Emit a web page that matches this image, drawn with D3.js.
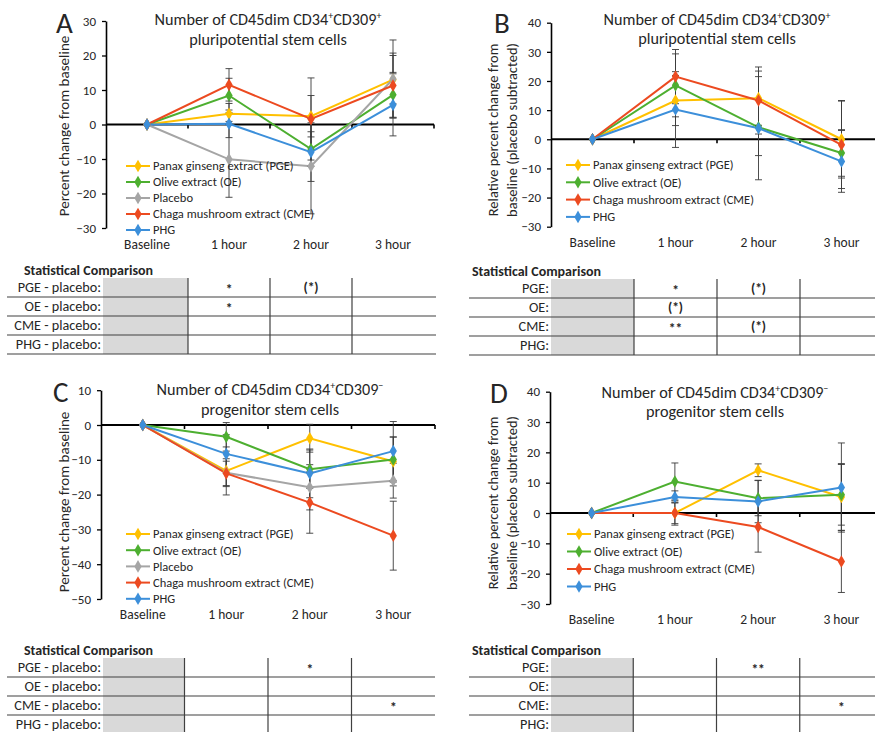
<!DOCTYPE html>
<html lang="en">
<head>
<meta charset="UTF-8">
<title>CD45dim CD34+ stem cells, change from baseline</title>
<script src="https://d3js.org/d3.v7.min.js"></script>
<style>
  body { margin: 0; background: #fff; }
  svg text { font-family: Carlito, "Liberation Sans", Arial, sans-serif; fill: #262626; }
</style>
</head>
<body>
<svg width="875" height="732"></svg>
<script>
// ---- data ----
const categories = ['Baseline', '1 hour', '2 hour', '3 hour'];

const namesWithPlacebo = ['Panax ginseng extract (PGE)', 'Olive extract (OE)', 'Placebo', 'Chaga mushroom extract (CME)', 'PHG'];
const colorsWithPlacebo = ['#FFC000', '#4DAF30', '#A5A5A5', '#EC4A20', '#3C8FDA'];
const namesSubtracted = ['Panax ginseng extract (PGE)', 'Olive extract (OE)', 'Chaga mushroom extract (CME)', 'PHG'];
const colorsSubtracted = ['#FFC000', '#4DAF30', '#EC4A20', '#3C8FDA'];

// A: pluripotential, % change from baseline (PGE, OE, Placebo, CME, PHG)
const meansA = [[0, 3.1, 2.4, 13.0], [0, 8.4, -7.1, 8.6], [0, -10.1, -12.1, 13.2], [0, 11.5, 1.6, 11.3], [0, 0.2, -8.0, 5.7]];
const errsA  = [[0, 3.0, 6.0, 7.0], [0, 5.0, 5.0, 6.5], [0, 11.0, 13.8, 11.3], [0, 4.7, 11.9, 9.4], [0, 4.0, 8.5, 9.0]];
// B: pluripotential, placebo subtracted (PGE, OE, CME, PHG)
const meansB = [[0, 13.3, 14.1, 0.0], [0, 18.5, 4.1, -4.7], [0, 21.5, 13.3, -1.9], [0, 10.2, 3.8, -7.6]];
const errsB  = [[0, 8.6, 9.3, 13.3], [0, 10.8, 9.7, 8.0], [0, 9.3, 11.5, 15.0], [0, 13.0, 17.7, 10.6]];
// C: progenitor, % change from baseline
const meansC = [[0, -13.2, -3.8, -10.5], [0, -3.4, -12.7, -9.9], [0, -13.7, -17.9, -16.0], [0, -13.9, -22.3, -31.8], [0, -8.3, -13.9, -7.5]];
const errsC  = [[0, 6.9, 4.0, 7.0], [0, 4.1, 5.5, 6.5], [0, 4.0, 6.5, 5.0], [0, 3.5, 8.8, 9.9], [0, 5.5, 7.0, 8.5]];
// D: progenitor, placebo subtracted
const meansD = [[0, 0.0, 14.1, 5.3], [0, 10.4, 4.9, 6.0], [0, 0.0, -4.6, -16.0], [0, 5.3, 3.8, 8.4]];
const errsD  = [[0, 4.0, 2.1, 11.0], [0, 6.1, 5.8, 10.0], [0, 3.5, 8.3, 10.2], [0, 2.0, 7.0, 14.7]];

// statistical comparison tables: columns 1 hour, 2 hour, 3 hour
const rowsPlacebo = ['PGE - placebo:', 'OE - placebo:', 'CME - placebo:', 'PHG - placebo:'];
const rowsShort = ['PGE:', 'OE:', 'CME:', 'PHG:'];
const statsA = [['*', '(*)', ''], ['*', '', ''], ['', '', ''], ['', '', '']];
const statsB = [['*', '(*)', ''], ['(*)', '', ''], ['**', '(*)', ''], ['', '', '']];
const statsC = [['', '*', ''], ['', '', ''], ['', '', '*'], ['', '', '']];
const statsD = [['', '**', ''], ['', '', ''], ['', '', '*'], ['', '', '']];

const svg = d3.select('svg');
svg.append('rect').attr('width', 875).attr('height', 732).attr('fill', '#fff');

const diamond = d3.symbol().type(d3.symbolDiamond).size(46);

function drawPanel(p) {
    const g = svg.append('g');
    const x = d3.scaleBand().domain(categories).range(p.xRange);
    const cx = c => x(c) + x.bandwidth() / 2;
    const y = d3.scaleLinear().domain(p.yDomain).range(p.yRange);

    // letter
    g.append('text').attr('x', p.letter[1]).attr('y', p.letter[2])
        .attr('font-size', 29).text(p.letter[0]);

    // title
    const t = g.append('text').attr('x', p.titleX).attr('y', p.titleY[0])
        .attr('text-anchor', 'middle').attr('font-size', 16.2);
    t.append('tspan').text('Number of CD45dim CD34');
    t.append('tspan').attr('dy', -6).attr('font-size', 10).text('+');
    t.append('tspan').attr('dy', 6).text('CD309');
    t.append('tspan').attr('dy', -6).attr('font-size', 10).text(p.sign);
    g.append('text').attr('x', p.titleX).attr('y', p.titleY[1])
        .attr('text-anchor', 'middle').attr('font-size', 16.2).text(p.title2);

    // y label
    p.ylabel.forEach((line, i) => {
        g.append('text')
            .attr('transform', `translate(${p.ylabelX[i]},${p.ylabelY}) rotate(-90)`)
            .attr('text-anchor', 'middle').attr('dy', '0.35em')
            .attr('font-size', p.ylabelSize).text(line);
    });

    // y axis
    g.append('g')
        .attr('transform', `translate(${p.xRange[0]},0)`)
        .call(d3.axisLeft(y).tickValues(d3.range(p.yDomain[0], p.yDomain[1] + 1, 10))
            .tickSize(4).tickSizeOuter(0).tickPadding(6))
        .attr('font-size', 13)
        .call(a => a.select('.domain').attr('stroke', '#000').attr('stroke-width', 1.6))
        .call(a => a.selectAll('.tick line').attr('stroke', '#000').attr('stroke-width', 1.3));

    // zero line with category separators
    const y0 = y(0);
    g.append('line').attr('x1', p.xRange[0]).attr('x2', p.xRange[1])
        .attr('y1', y0).attr('y2', y0).attr('stroke', '#000').attr('stroke-width', 1.8);
    const bounds = categories.slice(1).map(c => x(c)).concat(p.xRange[1]);
    g.selectAll('.sep').data(bounds).join('line')
        .attr('x1', d => d).attr('x2', d => d)
        .attr('y1', y0).attr('y2', y0 + 4)
        .attr('stroke', '#000').attr('stroke-width', 1.6);

    // category labels
    g.append('g')
        .attr('transform', `translate(0,${p.labelTop})`)
        .call(d3.axisBottom(x).tickSize(0).tickPadding(0))
        .attr('font-size', 13.5)
        .call(a => a.select('.domain').remove());

    // series
    const line = d3.line().x((d, i) => cx(categories[i])).y(d => y(d));
    p.means.forEach((m, s) => {
        g.append('path').datum(m).attr('d', line)
            .attr('fill', 'none').attr('stroke', p.colors[s]).attr('stroke-width', 2);
    });
    p.means.forEach((m, s) => {
        const bars = m.map((v, i) => ({ c: categories[i], v, e: p.errs[s][i] })).filter(d => d.e > 0);
        const eb = g.append('g').attr('stroke', '#3a3a3a').attr('stroke-width', 0.9);
        eb.selectAll('.bar').data(bars).join('line')
            .attr('x1', d => cx(d.c)).attr('x2', d => cx(d.c))
            .attr('y1', d => y(d.v - d.e)).attr('y2', d => y(d.v + d.e));
        eb.selectAll('.capH').data(bars).join('line')
            .attr('x1', d => cx(d.c) - 3.5).attr('x2', d => cx(d.c) + 3.5)
            .attr('y1', d => y(d.v + d.e)).attr('y2', d => y(d.v + d.e));
        eb.selectAll('.capL').data(bars).join('line')
            .attr('x1', d => cx(d.c) - 3.5).attr('x2', d => cx(d.c) + 3.5)
            .attr('y1', d => y(d.v - d.e)).attr('y2', d => y(d.v - d.e));
    });
    p.means.forEach((m, s) => {
        g.selectAll(null).data(m).join('path')
            .attr('d', diamond)
            .attr('transform', (d, i) => `translate(${cx(categories[i])},${y(d)})`)
            .attr('fill', p.colors[s]);
    });

    // legend
    p.names.forEach((n, i) => {
        const ly = p.legend.y + i * p.legend.step;
        g.append('line').attr('x1', p.legend.x).attr('x2', p.legend.x + 24)
            .attr('y1', ly).attr('y2', ly).attr('stroke', p.colors[i]).attr('stroke-width', 2);
        g.append('path').attr('d', diamond).attr('transform', `translate(${p.legend.x + 12},${ly})`)
            .attr('fill', p.colors[i]);
        g.append('text').attr('x', p.legend.x + 27).attr('y', ly).attr('dy', '0.35em')
            .attr('font-size', 12.5).text(n);
    });

    // statistical comparison table
    const tb = p.table;
    g.append('text').attr('x', tb.headX).attr('y', tb.top - 3)
        .attr('font-size', 14).attr('font-weight', 'bold').text('Statistical Comparison');
    g.append('rect').attr('x', tb.labelRight + 2).attr('y', tb.top)
        .attr('width', x(categories[1]) - tb.labelRight - 2).attr('height', tb.rowH * tb.rows.length)
        .attr('fill', '#D9D9D9');
    tb.rows.forEach((r, i) => {
        const ry = tb.top + i * tb.rowH;
        g.append('text').attr('x', tb.labelRight).attr('y', ry + tb.rowH / 2).attr('dy', '0.35em')
            .attr('text-anchor', 'end').attr('font-size', 14.2).text(r);
        g.append('line').attr('x1', tb.lineX[0]).attr('x2', tb.lineX[1])
            .attr('y1', ry + tb.rowH).attr('y2', ry + tb.rowH)
            .attr('stroke', '#404040').attr('stroke-width', 1.2);
        tb.stats[i].forEach((s, j) => {
            if (!s) return;
            // a bare asterisk sits high in the em box, so nudge it down a little
            g.append('text').attr('x', cx(categories[j + 1])).attr('y', ry + tb.rowH / 2)
                .attr('dy', s.startsWith('(') ? '0.35em' : '0.48em')
                .attr('text-anchor', 'middle').attr('font-size', 13.5).attr('font-weight', 'bold').text(s);
        });
    });
    categories.slice(1).forEach(c => {
        g.append('line').attr('x1', x(c)).attr('x2', x(c))
            .attr('y1', tb.top).attr('y2', tb.top + tb.rowH * tb.rows.length)
            .attr('stroke', '#404040').attr('stroke-width', 1.2);
    });
}

drawPanel({
    letter: ['A', 56, 33], sign: '+', title2: 'pluripotential stem cells',
    titleX: 268, titleY: [25, 45],
    ylabel: ['Percent change from baseline'], ylabelX: [64], ylabelY: 126, ylabelSize: 15,
    xRange: [106, 434], yDomain: [-30, 30], yRange: [228, 21], labelTop: 239,
    means: meansA, errs: errsA, names: namesWithPlacebo, colors: colorsWithPlacebo,
    legend: { x: 126, y: 166, step: 16 },
    table: { headX: 24, top: 278, rowH: 19, labelRight: 101, lineX: [7, 436], rows: rowsPlacebo, stats: statsA }
});

drawPanel({
    letter: ['B', 494, 33], sign: '+', title2: 'pluripotential stem cells',
    titleX: 717, titleY: [25, 44],
    ylabel: ['Relative percent change from', 'baseline (placebo subtracted)'], ylabelX: [493, 512], ylabelY: 130, ylabelSize: 14.5,
    xRange: [551, 883], yDomain: [-30, 40], yRange: [226.7, 22.7], labelTop: 237,
    means: meansB, errs: errsB, names: namesSubtracted, colors: colorsSubtracted,
    legend: { x: 566, y: 165, step: 17.3 },
    table: { headX: 472, top: 279, rowH: 19, labelRight: 549, lineX: [469, 875], rows: rowsShort, stats: statsB }
});

drawPanel({
    letter: ['C', 53, 402], sign: '\u2212', title2: 'progenitor stem cells',
    titleX: 270, titleY: [395, 415],
    ylabel: ['Percent change from baseline'], ylabelX: [64], ylabelY: 502, ylabelSize: 15,
    xRange: [101, 435], yDomain: [-50, 10], yRange: [599, 390.2], labelTop: 609,
    means: meansC, errs: errsC, names: namesWithPlacebo, colors: colorsWithPlacebo,
    legend: { x: 126, y: 534, step: 16.2 },
    table: { headX: 24, top: 658, rowH: 19, labelRight: 101, lineX: [7, 435], rows: rowsPlacebo, stats: statsC }
});

drawPanel({
    letter: ['D', 490, 403], sign: '\u2212', title2: 'progenitor stem cells',
    titleX: 715, titleY: [398, 417],
    ylabel: ['Relative percent change from', 'baseline (placebo subtracted)'], ylabelX: [493, 512], ylabelY: 503, ylabelSize: 14.5,
    xRange: [550, 883], yDomain: [-30, 40], yRange: [604, 391.7], labelTop: 614,
    means: meansD, errs: errsD, names: namesSubtracted, colors: colorsSubtracted,
    legend: { x: 567, y: 534, step: 17.5 },
    table: { headX: 472, top: 658, rowH: 19, labelRight: 549, lineX: [469, 875], rows: rowsShort, stats: statsD }
});
</script>
</body>
</html>
